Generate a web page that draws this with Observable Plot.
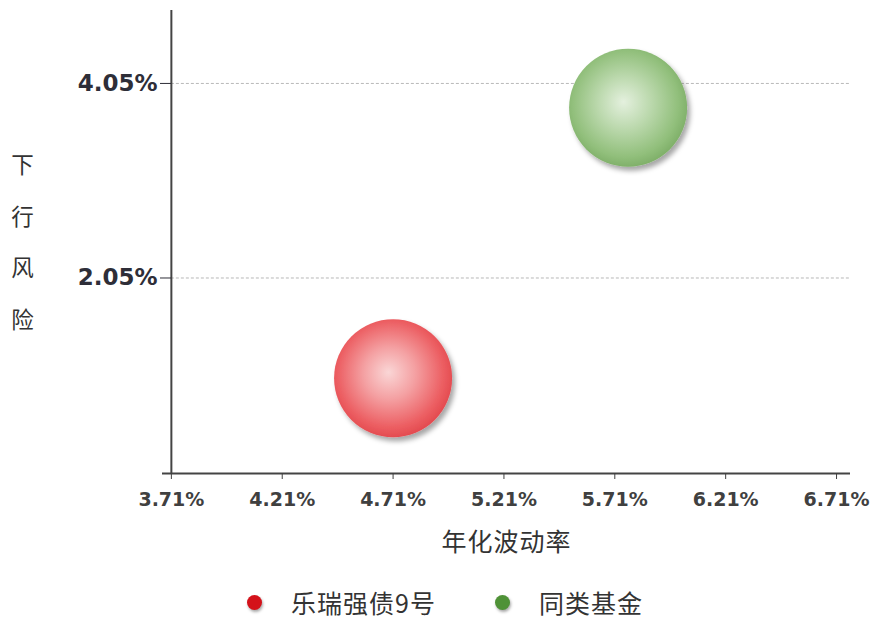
<!DOCTYPE html>
<html>
<head>
<meta charset="utf-8">
<script src="https://cdn.jsdelivr.net/npm/d3@7"></script>
<script src="https://cdn.jsdelivr.net/npm/@observablehq/plot@0.6"></script>
<style>
  html, body { margin: 0; padding: 0; background: #fff; }
  #wrap { position: relative; width: 870px; height: 623px; overflow: hidden; }
  #legend { position: absolute; left: 0; top: 565px; width: 870px; height: 58px;
            font-family: "Noto Sans CJK SC", sans-serif; font-size: 25px; letter-spacing: 1px; color: #333; }
  .item { position: absolute; top: 22px; display: flex; align-items: center; height: 30px; }
  .swatch { width: 15px; height: 15px; border-radius: 50%; margin-right: 29px;
            box-shadow: 1px 2px 3px rgba(0,0,0,0.35); }
</style>
</head>
<body>
<div id="wrap"><div id="chart"></div><div id="legend"></div></div>
<script>
// Funds compared: annualised volatility (x, %) vs downside risk (y, %)
const funds = ["乐瑞强债9号", "同类基金"];
const volatility = [4.71, 5.77];
const downsideRisk = [1.02, 3.80];
const xTicks = [3.71, 4.21, 4.71, 5.21, 5.71, 6.21, 6.71];
const yTicks = [2.05, 4.05];
const legendColors = ["#d4121a", "#4f9237"];
const ballFills = ["url(#ball-red)", "url(#ball-green)"];

const data = funds.map((name, i) => ({name, x: volatility[i], y: downsideRisk[i]}));
const pct = d => d.toFixed(2) + "%";
const xMin = 3.67, xMax = 6.773, yMin = 0.04, yMax = 4.80;

const plot = Plot.plot({
  width: 870,
  height: 565,
  marginLeft: 162,
  marginRight: 20,
  marginTop: 10,
  marginBottom: 92,
  style: {background: "#fff", fontFamily: "'DejaVu Sans', sans-serif", overflow: "visible"},
  x: {domain: [xMin, xMax], axis: null},
  y: {domain: [yMin, yMax], axis: null},
  color: {type: "ordinal", domain: funds, range: ballFills},
  marks: [
    // dashed horizontal guides
    Plot.ruleY(yTicks, {x1: xTicks[0], x2: xMax, stroke: "#b8b8b8", strokeWidth: 1, strokeDasharray: "3,2"}),
    // axis lines
    Plot.ruleX([xTicks[0]], {y1: yMin, y2: yMax, stroke: "#444", strokeWidth: 2}),
    Plot.ruleY([yMin], {x1: xMin, x2: xMax, stroke: "#444", strokeWidth: 2}),
    Plot.axisX({ticks: xTicks, tickFormat: pct, tickSize: 6, tickPadding: 13, label: null,
      fontSize: 19, fontWeight: "bold", color: "#404040"}),
    // y ticks sit on the vertical axis line at x = 3.71%
    Plot.axisY({ticks: yTicks, tickFormat: pct, tickSize: 11, tickPadding: 3, label: null, anchor: "left", dx: 9,
      fontSize: 23, fontWeight: "bold", color: "#2e2e38"}),
    // axis titles
    Plot.text(["年化波动率"], {frameAnchor: "bottom", dy: 69, lineAnchor: "middle",
      fontSize: 25, fontFamily: "'Noto Sans CJK SC', sans-serif", fill: "#333"}),
    Plot.text(["下\n行\n风\n险"], {frameAnchor: "left", dx: -140, dy: -8, textAnchor: "middle", lineAnchor: "middle",
      lineHeight: 2.3, fontSize: 22.5, fontFamily: "'Noto Sans CJK SC', sans-serif", fill: "#333"}),
    // bubbles
    Plot.dot(data, {x: "x", y: "y", r: 59, fill: "name", stroke: "none"})
  ]
});

document.getElementById("chart").append(plot);

// wider letter spacing on the x title
d3.select(plot).selectAll("g[aria-label=text] text")
  .filter(function() { return this.textContent === "年化波动率"; })
  .attr("letter-spacing", "1px");

// gradients and drop shadow for the bubbles
const svg = d3.select(plot);
const defs = svg.insert("defs", ":first-child");
const grads = [
  {id: "ball-red", stops: [["0%", "#fad6d6"], ["40%", "#f4a0a2"], ["82%", "#ec5e62"], ["100%", "#e2474c"]]},
  {id: "ball-green", stops: [["0%", "#e4f0de"], ["40%", "#bcd9ae"], ["82%", "#91bf7b"], ["100%", "#7cad66"]]}
];
for (const g of grads) {
  const rg = defs.append("radialGradient").attr("id", g.id)
    .attr("cx", "48%").attr("cy", "47%").attr("r", "55%").attr("fx", "46%").attr("fy", "45%");
  for (const [o, c] of g.stops) rg.append("stop").attr("offset", o).attr("stop-color", c);
}
const f = defs.append("filter").attr("id", "ball-shadow")
  .attr("x", "-20%").attr("y", "-20%").attr("width", "150%").attr("height", "150%");
f.append("feDropShadow").attr("dx", 3).attr("dy", 4).attr("stdDeviation", 2.5)
  .attr("flood-color", "#000").attr("flood-opacity", 0.35);
svg.selectAll("g[aria-label=dot] circle").attr("filter", "url(#ball-shadow)");

// legend below the chart
const legend = d3.select("#legend");
const legendX = [247, 495];
funds.forEach((name, i) => {
  const item = legend.append("div").attr("class", "item").style("left", legendX[i] + "px");
  item.append("div").attr("class", "swatch").style("background", legendColors[i]);
  item.append("span").text(name);
});
</script>
</body>
</html>
